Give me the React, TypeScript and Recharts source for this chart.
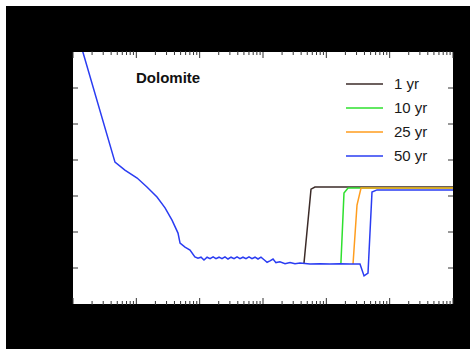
import React from 'react';
import { LineChart, Line, XAxis, YAxis, CartesianGrid, Legend, Customized } from 'recharts';

// shared curve before the sharp rise (x on log scale, y linear)
const baseX = [1, 4.6, 6.6, 10.3, 14.7, 21.2, 28.4, 36.6, 45.5, 49, 58.7, 70.4, 84, 94, 105, 117, 131, 146, 163, 181, 202, 225, 251, 280, 313, 349, 389, 433, 483, 539, 601, 670, 748, 834, 929, 1040, 1160, 1290, 1440, 1600, 1850, 2230, 2670, 3200, 3840, 5520, 7940, 11400, 16400, 23600, 34000];
const baseY = [7.94, 3.94, 3.72, 3.5, 3.25, 2.97, 2.67, 2.33, 1.97, 1.69, 1.58, 1.5, 1.31, 1.27, 1.3, 1.22, 1.3, 1.26, 1.31, 1.26, 1.3, 1.26, 1.31, 1.25, 1.3, 1.26, 1.31, 1.26, 1.3, 1.26, 1.31, 1.26, 1.3, 1.25, 1.3, 1.23, 1.16, 1.2, 1.25, 1.15, 1.17, 1.12, 1.15, 1.12, 1.14, 1.11, 1.12, 1.11, 1.12, 1.11, 1.11];

// each period: where it leaves the base curve, then its rise to the plateau
const riseX1 = [4440, 5730, 6610, 1e6];
const riseY1 = [1.14, 3.19, 3.25, 3.25];
const riseX10 = [17000, 19000, 22000, 1e6];
const riseY10 = [1.14, 3.08, 3.22, 3.22];
const riseX25 = [26400, 30500, 35300, 1e6];
const riseY25 = [1.11, 2.75, 3.22, 3.22];
const riseX50 = [39400, 45500, 52600, 63100, 1e6];
const riseY50 = [0.78, 0.86, 3.11, 3.17, 3.17];

const seriesNames = ['1 yr', '10 yr', '25 yr', '50 yr'];
const seriesColors = ['#3b2b28', '#2ee02e', '#ff9d1e', '#2a3cf2'];

const majorTicks = [1, 10, 100, 1000, 10000, 100000, 1000000];
const decades = [1, 10, 100, 1000, 10000, 100000];
const minorSteps = [2, 3, 4, 5, 6, 7, 8, 9];
const minorTicks = decades.flatMap((d) => minorSteps.map((m) => m * d));
const yTicks = [1, 2, 3, 4, 5, 6];

// the shorter runs only show from where they leave the 50 yr curve
const buildSeries = (rx: number[], ry: number[], full: boolean) => {
  const before = baseX
    .map((x, i) => ({ x, y: baseY[i] }))
    .filter((p) => p.x < rx[0]);
  const pts = full ? before : [];
  return pts.concat(rx.map((x, i) => ({ x, y: ry[i] })));
};

const series = [
  buildSeries(riseX1, riseY1, false),
  buildSeries(riseX10, riseY10, false),
  buildSeries(riseX25, riseY25, false),
  buildSeries(riseX50, riseY50, true),
];

const FONT = '"Liberation Sans", Arial, Helvetica, sans-serif';
const noLabel = () => <g />;

const renderLegend = (props: any) => (
  <div style={{ fontFamily: FONT, fontSize: 15, color: '#1a1a1a' }}>
    {(props.payload || []).map((item: any) => (
      <div key={item.value} style={{ display: 'flex', alignItems: 'center', height: 24 }}>
        <svg width={37} height={4} style={{ display: 'block' }}>
          <line x1={0} y1={2} x2={37} y2={2} stroke={item.color} strokeWidth={1.5} />
        </svg>
        <span style={{ marginLeft: 11, lineHeight: '24px' }}>{item.value}</span>
      </div>
    ))}
  </div>
);

const Title = () => (
  <text x={130} y={77} fontFamily={FONT} fontSize={15} fontWeight="bold" fill="#111">
    Dolomite
  </text>
);

export default function App() {
  const xCommon = {
    type: 'number' as const,
    dataKey: 'x',
    scale: 'log' as const,
    domain: [1, 1000000],
    allowDataOverflow: true,
    axisLine: false,
    tick: noLabel,
    interval: 0 as const,
    height: 1,
    tickLine: { stroke: '#333' },
  };
  const yCommon = {
    type: 'number' as const,
    domain: [0, 7],
    ticks: yTicks,
    allowDataOverflow: true,
    axisLine: false,
    tick: noLabel,
    interval: 0 as const,
    width: 1,
    tickSize: -5,
    tickLine: { stroke: '#333' },
  };
  return (
    <div style={{ position: 'absolute', left: 6, top: 6, width: 464, height: 343, background: '#000' }}>
      <LineChart width={464} height={343} margin={{ top: 44, right: 16, bottom: 43, left: 66 }}>
        <CartesianGrid xAxisId="bMaj" yAxisId="l" horizontal={false} vertical={false} fill="#fff" />
        <XAxis {...xCommon} xAxisId="bMaj" orientation="bottom" ticks={majorTicks} tickSize={-6} />
        <XAxis {...xCommon} xAxisId="bMin" orientation="bottom" ticks={minorTicks} tickSize={-4} />
        <XAxis {...xCommon} xAxisId="tMaj" orientation="top" ticks={majorTicks} tickSize={-6} />
        <XAxis {...xCommon} xAxisId="tMin" orientation="top" ticks={minorTicks} tickSize={-4} />
        <YAxis {...yCommon} yAxisId="l" orientation="left" />
        <YAxis {...yCommon} yAxisId="r" orientation="right" />
        {series.map((data, i) => (
          <Line
            key={seriesNames[i]}
            xAxisId="bMaj"
            yAxisId="l"
            data={data}
            dataKey="y"
            name={seriesNames[i]}
            type="linear"
            stroke={seriesColors[i]}
            strokeWidth={1.5}
            dot={false}
            isAnimationActive={false}
          />
        ))}
        <Legend
          layout="vertical"
          align="center"
          verticalAlign="middle"
          content={renderLegend}
          wrapperStyle={{ top: 66, left: 340, width: 100 }}
        />
        <Customized component={Title} />
      </LineChart>
    </div>
  );
}
